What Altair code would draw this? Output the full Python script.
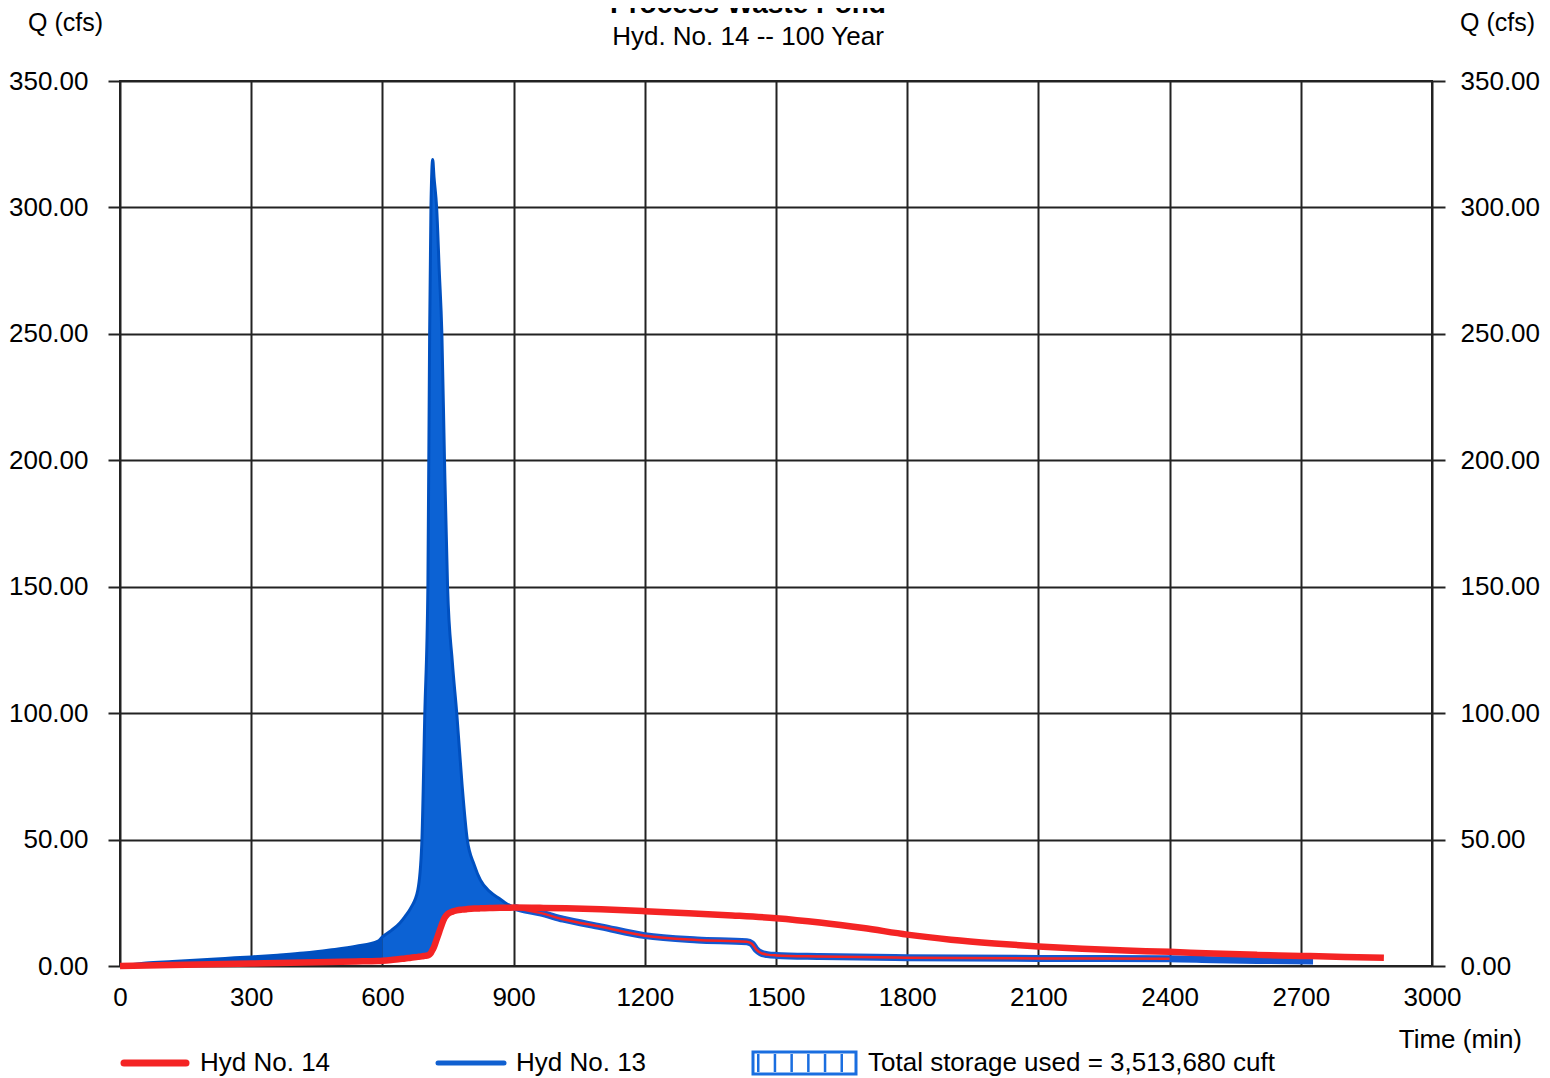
import altair as alt
import pandas as pd

FONT = "Liberation Sans"

# ---- data (minutes, cfs) ----
t_rise = [0, 60, 120, 180, 240, 300, 360, 420, 480, 540, 590, 600, 620, 640, 652, 665, 681, 690, 697, 704,
          708, 711, 715, 718, 724, 730, 736, 742, 749, 760, 770, 782, 794, 810, 824, 845, 869, 885, 900]
q13_rise = [0, 1.2, 1.8, 2.4, 3.0, 3.6, 4.3, 5.1, 6.3, 7.8, 9.8, 11.5, 14.0, 17.0, 19.6, 23.0, 30.0, 48.0, 100.0, 150.0,
            250.0, 300.0, 319.0, 312.0, 300.0, 275.0, 250.0, 200.0, 150.0, 120.0, 100.0, 72.0, 50.0, 40.0, 34.0, 29.5, 26.5, 24.5, 23.3]
q14_rise = [0, 0.2, 0.4, 0.6, 0.8, 1.0, 1.2, 1.4, 1.6, 1.8, 2.0, 2.1, 2.4, 2.8, 3.0, 3.3, 3.6, 3.8, 4.0, 4.2,
            4.6, 5.2, 6.5, 7.5, 10.5, 13.5, 16.5, 19.0, 20.5, 21.5, 22.0, 22.3, 22.5, 22.7, 22.8, 22.9, 23.0, 23.0, 23.1]

t13_tail = [930, 960, 1013, 1100, 1200, 1320, 1433, 1445, 1455, 1465, 1480, 1500, 1600, 1800, 2100, 2400, 2500, 2600, 2728]
q13_tail = [22.0, 21.0, 18.5, 15.5, 12.0, 10.3, 9.6, 8.8, 6.5, 5.2, 4.5, 4.2, 3.8, 3.3, 3.0, 2.9, 2.5, 2.2, 2.0]
t14_tail = [960, 1020, 1100, 1200, 1300, 1400, 1500, 1600, 1700, 1800, 1900, 2000, 2100, 2200, 2300, 2400,
            2500, 2600, 2700, 2800, 2890]
q14_tail = [23.0, 22.8, 22.4, 21.7, 20.9, 20.0, 18.9, 17.2, 15.0, 12.4, 10.4, 8.9, 7.7, 6.8, 6.1, 5.6,
            4.9, 4.4, 4.0, 3.6, 3.3]

x_ticks = [0, 300, 600, 900, 1200, 1500, 1800, 2100, 2400, 2700, 3000]
y_ticks = [0, 50, 100, 150, 200, 250, 300, 350]

title_text = "Process Waste Pond"
subtitle_text = "Hyd. No. 14 -- 100 Year"
legend_14 = "Hyd No. 14"
legend_13 = "Hyd No. 13"
legend_storage = "Total storage used = 3,513,680 cuft"

RED = "#f42424"
BLUE = "#0c62d4"
BLUE_DARK = "#0050c0"
GRID = "#222222"

rise = pd.DataFrame({"t": t_rise, "q13": q13_rise, "q14": q14_rise})
hyd13 = pd.DataFrame({"t": t_rise + t13_tail, "q": q13_rise + q13_tail})
hyd14 = pd.DataFrame({"t": t_rise + t14_tail, "q": q14_rise + q14_tail})
hyd13_tail = hyd13[(hyd13["t"] >= 900)]
hyd13_mid = hyd13[(hyd13["t"] >= 900) & (hyd13["t"] <= 2400)]
one = pd.DataFrame({"k": [0]})

xscale = alt.Scale(domain=[0, 3000], nice=False, zero=False)
yscale = alt.Scale(domain=[0, 350], nice=False)

x_axis = alt.Axis(values=x_ticks, format="d", title=None, grid=True, gridColor=GRID, gridWidth=2,
                  ticks=False, domain=False, labelPadding=18, labelFontSize=26,
                  labelColor="black", labelFont=FONT, labelFlush=False)
y_left = alt.Axis(values=y_ticks, format=".2f", title=None, grid=True, gridColor=GRID, gridWidth=2,
                  tickSize=12, tickWidth=2, tickColor=GRID, domain=False, labelPadding=20,
                  labelFontSize=26, labelColor="black", labelFont=FONT)
y_right = alt.Axis(values=y_ticks, format=".2f", title=None, grid=False, orient="right",
                   tickSize=13, tickWidth=2, tickColor=GRID, domain=False, labelPadding=15,
                   labelFontSize=26, labelColor="black", labelFont=FONT)

X = alt.X("t:Q", scale=xscale, axis=x_axis)

area_left = alt.Chart(rise[rise["t"] <= 600]).mark_area(color=BLUE_DARK, opacity=1, interpolate="monotone").encode(
    x=X, y=alt.Y("q13:Q", scale=yscale, axis=y_left), y2="q14:Q")
area_right = alt.Chart(rise[rise["t"] >= 600]).mark_area(color=BLUE, opacity=1, interpolate="monotone").encode(
    x=X, y=alt.Y("q13:Q", scale=yscale, axis=None), y2="q14:Q")
blue_edge = alt.Chart(hyd13[hyd13["t"] <= 900]).mark_line(color=BLUE_DARK, strokeWidth=3, interpolate="monotone").encode(
    x=X, y=alt.Y("q:Q", scale=yscale, axis=None))
blue_tail = alt.Chart(hyd13_tail).mark_line(color="#1458d0", strokeWidth=7, interpolate="monotone").encode(
    x=X, y=alt.Y("q:Q", scale=yscale, axis=None))
red_center = alt.Chart(hyd13_mid).mark_line(color=RED, strokeWidth=2.5, interpolate="monotone").encode(
    x=X, y=alt.Y("q:Q", scale=yscale, axis=None))
red_line = alt.Chart(hyd14).mark_line(color=RED, strokeWidth=6.5, interpolate="monotone").encode(
    x=X, y=alt.Y("q:Q", scale=yscale, axis=y_right))


def label(text, x, y, size=26, align="left", weight="normal", baseline="middle"):
    return alt.Chart(one).mark_text(text=text, align=align, baseline=baseline, fontSize=size,
                                    fontWeight=weight, font=FONT, color="black").encode(
        x=alt.value(x), y=alt.value(y))


title = label(title_text, 628, -68, size=28, align="center", weight="bold", baseline="alphabetic")
subtitle = label(subtitle_text, 628, -44, size=26, align="center")
q_left = label("Q (cfs)", -92, -58, size=25)
q_right = label("Q (cfs)", 1340, -58, size=25)
time_lbl = label("Time (min)", 1402, 959, size=26, align="right")

leg_red = alt.Chart(one).mark_rule(color=RED, strokeWidth=7, strokeCap="round").encode(
    x=alt.value(4), x2=alt.value(66), y=alt.value(982))
leg_blue = alt.Chart(one).mark_rule(color="#1060d0", strokeWidth=5, strokeCap="round").encode(
    x=alt.value(318), x2=alt.value(384), y=alt.value(982))
leg_box = alt.Chart(one).mark_rect(fill="white", stroke="#1a6ee0", strokeWidth=3).encode(
    x=alt.value(633), x2=alt.value(736), y=alt.value(971), y2=alt.value(993))
leg_stripes = alt.Chart(one).mark_rule(color="#1a6ee0", strokeWidth=18, strokeDash=[2.5, 14.2]).encode(
    x=alt.value(637), x2=alt.value(733), y=alt.value(982))
leg_t14 = label(legend_14, 80, 982)
leg_t13 = label(legend_13, 396, 982)
leg_ts = label(legend_storage, 748, 982)

chart = alt.layer(
    area_left, area_right, blue_edge, blue_tail, red_center, red_line,
    title, subtitle, q_left, q_right, time_lbl,
    leg_red, leg_blue, leg_box, leg_stripes, leg_t14, leg_t13, leg_ts,
).resolve_axis(y="independent").resolve_scale(y="shared").properties(
    width=1312, height=885,
    autosize=alt.AutoSizeParams(type="none"),
    padding={"left": 112, "top": 73, "right": 109, "bottom": 112},
    background="white",
).configure_view(stroke=GRID, strokeWidth=2)

chart.save("out.html", embed_options={"renderer": "svg", "actions": False})
